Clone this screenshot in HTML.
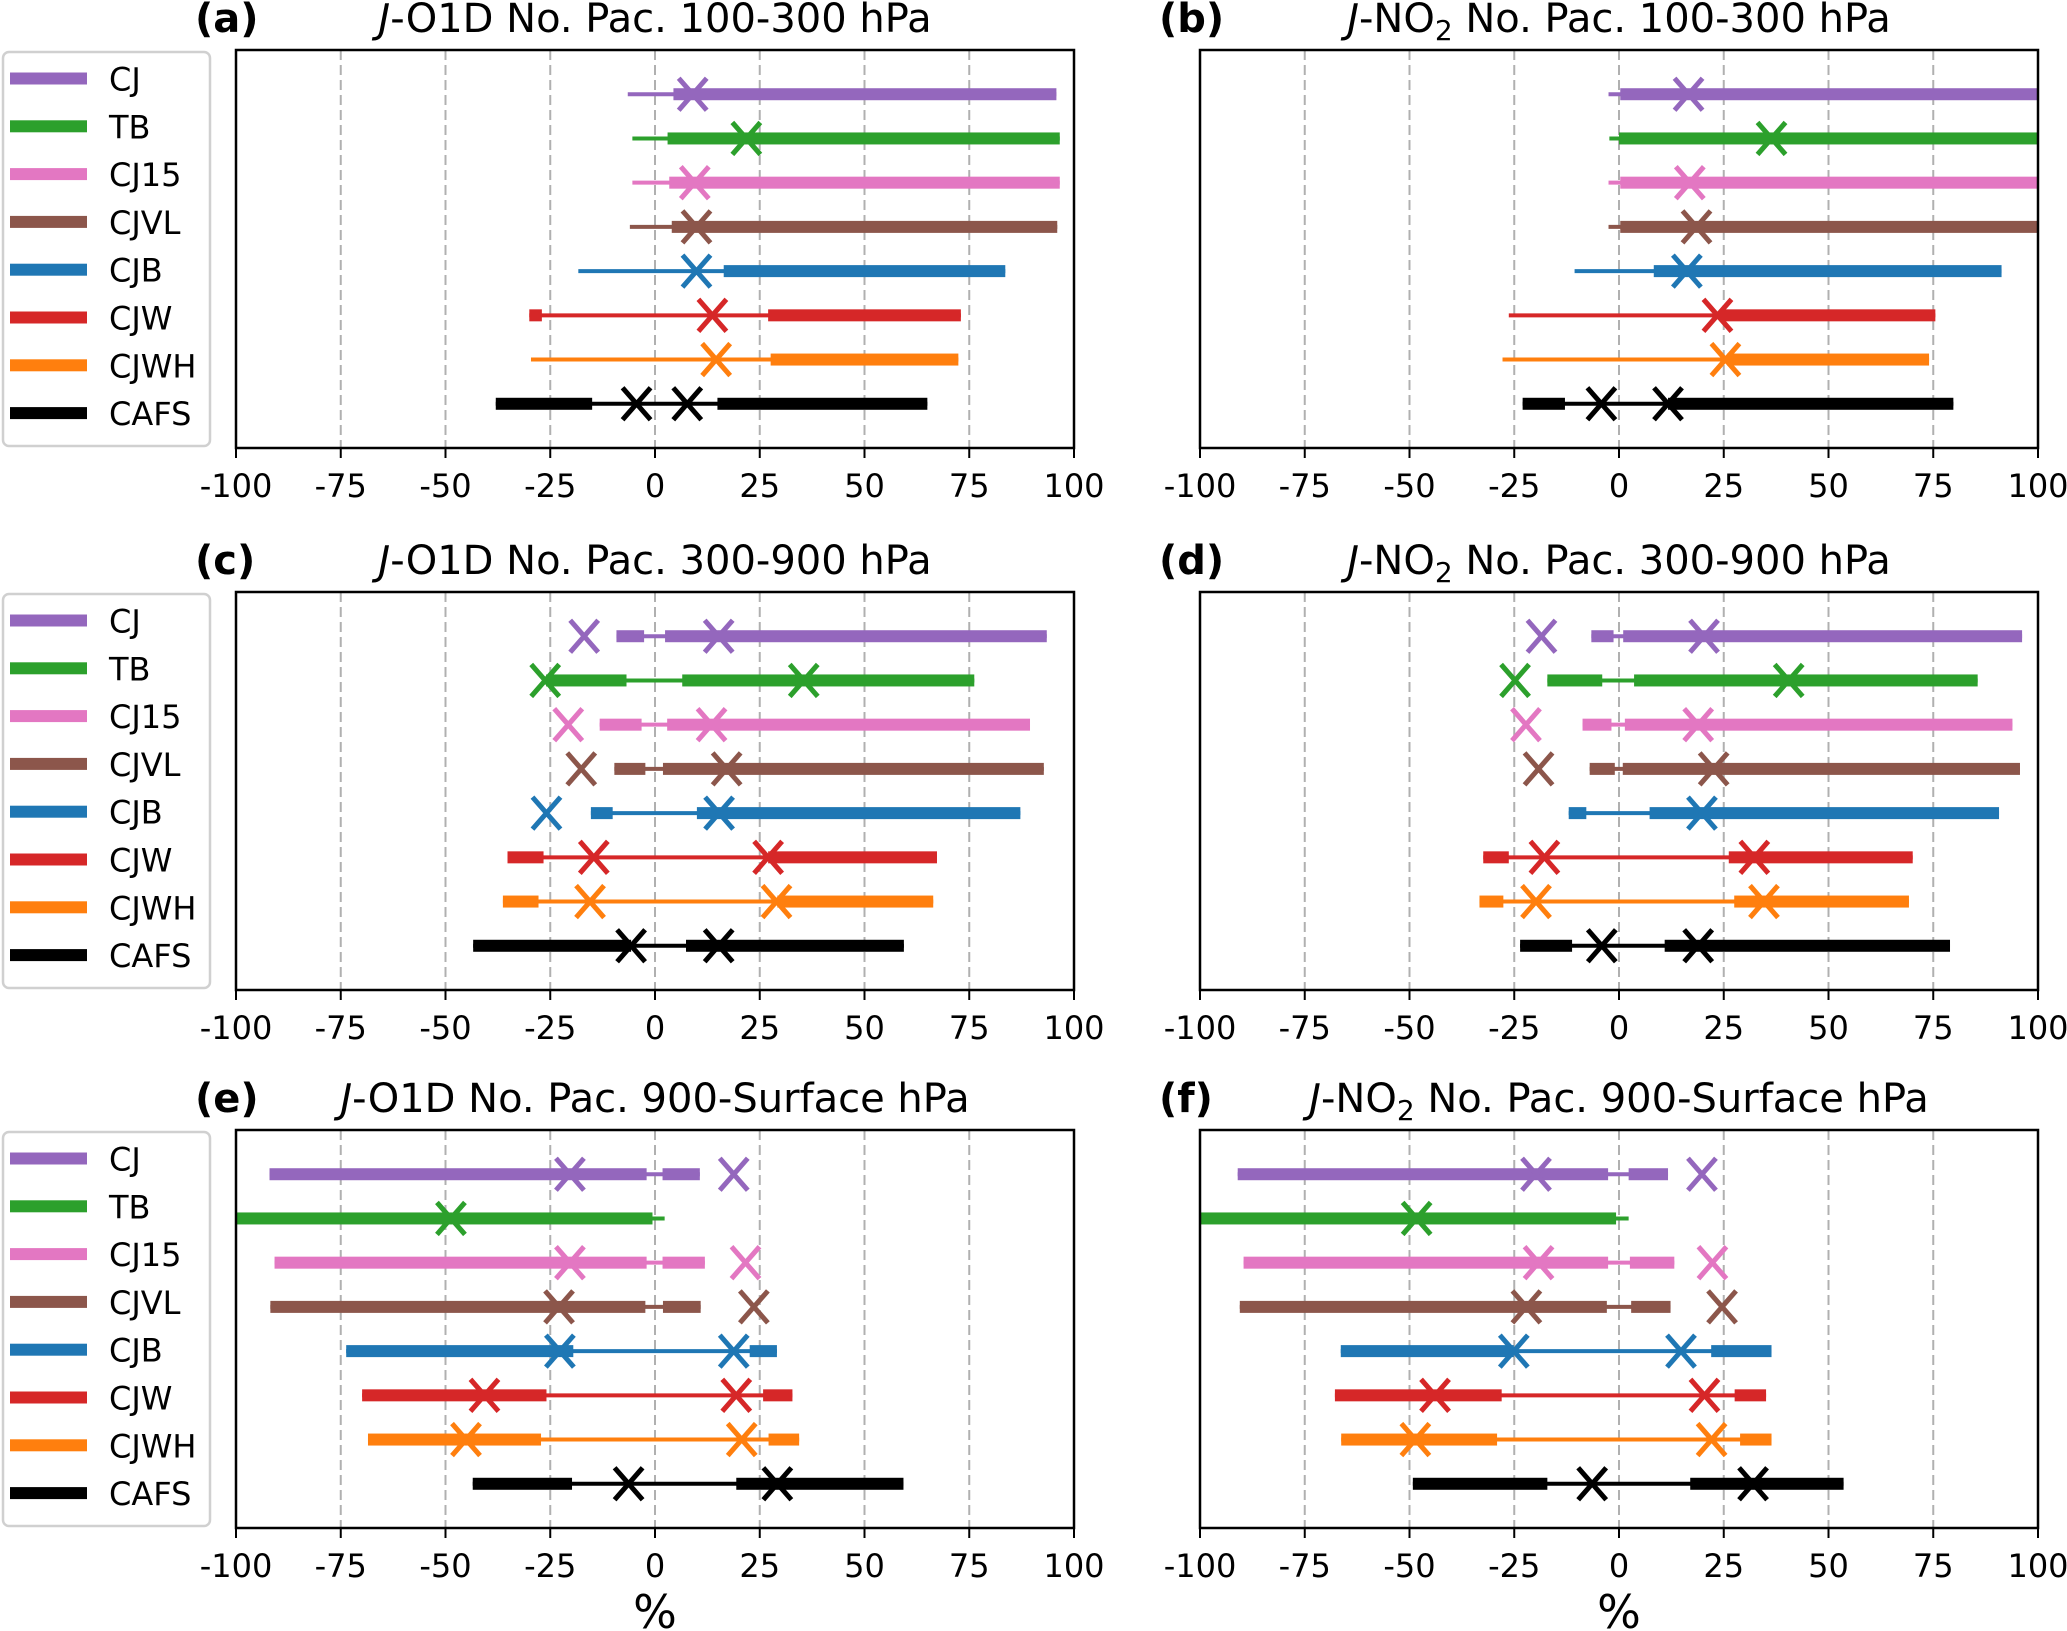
<!DOCTYPE html>
<html><head><meta charset="utf-8">
<style>
html,body{margin:0;padding:0;background:#fff;}
svg{display:block;font-family:"DejaVu Sans","Liberation Sans",sans-serif;}
</style></head>
<body>
<svg id="fig" width="2067" height="1631" viewBox="0 0 2067 1631" xmlns="http://www.w3.org/2000/svg"></svg>
<script>
const seriesNames=["CJ","TB","CJ15","CJVL","CJB","CJW","CJWH","CAFS"];
const seriesColors=["#9467bd","#2ca02c","#e377c2","#8c564b","#1f77b4","#d62728","#ff7f0e","#000000"];
const tickValues=[-100,-75,-50,-25,0,25,50,75,100];
const tickLabels=["-100","-75","-50","-25","0","25","50","75","100"];

// panel a
const aMin=[-6.5,-5.4,-5.4,-6,-18.3,-30,-29.6,-38];
const aLo=[-6.5,-5.4,-5.4,-6,-18.3,-27,-29.6,-15];
const aHi=[4.4,3,3.4,4,16.4,27,27.6,14.9];
const aMax=[95.8,96.6,96.6,96,83.6,73,72.4,65];
const aMk=[[9],[21.8],[9.5],[9.9],[9.9],[13.7],[14.6],[-4.4,7.7]];
// panel b
const bMin=[-2.5,-2.3,-2.5,-2.5,-10.6,-26.3,-27.8,-23];
const bLo=[-2.5,-2.3,-2.5,-2.5,-10.6,-26.3,-27.8,-12.9];
const bHi=[0.3,0,0.3,0.3,8.3,24.5,25.8,11.7];
const bMax=[100,100,100,100,91.3,75.5,74,79.8];
const bMk=[[16.6],[36.4],[16.9],[18.5],[16.2],[23.5],[25.4],[-4.2,11.7]];
// panel c
const cMin=[-9.2,-26,-13.2,-9.7,-15.3,-35.2,-36.3,-43.4];
const cLo=[-2.6,-6.8,-3.2,-2.3,-10.1,-26.6,-27.8,-5.7];
const cHi=[2.4,6.5,2.9,1.9,10,27,29.2,7.4];
const cMax=[93.5,76.2,89.5,92.8,87.2,67.3,66.4,59.4];
const cMk=[[-16.9,15.2],[-26.2,35.5],[-20.7,13.5],[-17.6,17.1],[-25.9,15.3],[-14.6,27],[-15.5,29],[-5.7,15.2]];
// panel d
const dMin=[-6.6,-17.1,-8.7,-7,-12,-32.4,-33.3,-23.6];
const dLo=[-1.3,-4,-1.8,-1,-7.8,-26.3,-27.6,-11.2];
const dHi=[1,3.6,1.4,0.9,7.3,26.2,27.5,10.9];
const dMax=[96.2,85.6,93.9,95.7,90.7,70.1,69.2,79];
const dMk=[[-18.5,20.3],[-24.8,40.5],[-22.2,18.9],[-19.2,22.6],[19.8],[-17.8,32.3],[-19.8,34.6],[-4.1,18.9]];
// panel e
const eMin=[-92,-100,-90.8,-91.8,-73.7,-69.9,-68.5,-43.5];
const eLo=[-2,-0.6,-2,-2.3,-19.5,-25.9,-27.2,-19.8];
const eHi=[1.8,2.3,1.8,1.9,22.6,25.8,27.1,19.4];
const eMax=[10.7,2.3,11.9,10.9,29.1,32.8,34.4,59.3];
const eMk=[[-20.3,18.8],[-48.7],[-20.3,21.6],[-22.9,23.6],[-22.7,18.8],[-40.7,19.4],[-45.1,20.7],[-6.3,29.2]];
// panel f
const fMin=[-91,-100,-89.6,-90.5,-66.4,-67.8,-66.3,-49.2];
const fLo=[-2.6,-0.7,-2.6,-2.9,-25.1,-28,-29.1,-17.1];
const fHi=[2.3,2.3,2.6,2.9,22,27.6,28.9,17];
const fMax=[11.7,2.3,13.2,12.3,36.4,35.1,36.4,53.6];
const fMk=[[-19.8,19.8],[-48.3],[-19.2,22.3],[-22.1,24.6],[-25.1,14.8],[-43.9,20.4],[-48.6,22.1],[-6.4,32]];

const panels=[
 {id:"a",title:"O1D",rng:"100-300",left:236,top:50,mn:aMin,lo:aLo,hi:aHi,mx:aMax,mk:aMk},
 {id:"b",title:"NO2",rng:"100-300",left:1200,top:50,mn:bMin,lo:bLo,hi:bHi,mx:bMax,mk:bMk},
 {id:"c",title:"O1D",rng:"300-900",left:236,top:592,mn:cMin,lo:cLo,hi:cHi,mx:cMax,mk:cMk},
 {id:"d",title:"NO2",rng:"300-900",left:1200,top:592,mn:dMin,lo:dLo,hi:dHi,mx:dMax,mk:dMk},
 {id:"e",title:"O1D",rng:"900-Surface",left:236,top:1130,mn:eMin,lo:eLo,hi:eHi,mx:eMax,mk:eMk},
 {id:"f",title:"NO2",rng:"900-Surface",left:1200,top:1130,mn:fMin,lo:fLo,hi:fHi,mx:fMax,mk:fMk}
];
const W=838,H=398;
const NS="http://www.w3.org/2000/svg";
const svg=document.getElementById("fig");
function mk(tag,attrs,parent){const e=document.createElementNS(NS,tag);for(const k in attrs)e.setAttribute(k,attrs[k]);(parent||svg).appendChild(e);return e;}

panels.forEach(p=>{
  const g=mk("g",{});
  
  
  const xs=v=>p.left+(v+100)/200*W;
  const ys=i=>p.top+(i+1)*H/9;
  tickValues.forEach(v=>{
    if(v===-100||v===100)return;
    const l=mk("line",{x1:xs(v),x2:xs(v),y1:p.top,y2:p.top+H,stroke:"#b0b0b0","stroke-width":2,"stroke-dasharray":"10,5"},g);
    
    
  });
  for(let i=0;i<8;i++){
    const sg=mk("g",{},g);
    
    
    const c=seriesColors[i],y=ys(i);
    mk("line",{x1:xs(p.mn[i]),x2:xs(p.mx[i]),y1:y,y2:y,stroke:c,"stroke-width":4},sg);
    const r1=mk("rect",{x:xs(p.mn[i]),y:y-6,width:Math.max(0,xs(p.lo[i])-xs(p.mn[i])),height:12,fill:c},sg);
    
    
    const r2=mk("rect",{x:xs(p.hi[i]),y:y-6,width:Math.max(0,xs(p.mx[i])-xs(p.hi[i])),height:12,fill:c},sg);
    
    
    p.mk[i].forEach(v=>{
      const cx=xs(v);
      const m=mk("path",{d:`M${cx-14},${y-16}L${cx+14},${y+16}M${cx-14},${y+16}L${cx+14},${y-16}`,stroke:c,"stroke-width":5,fill:"none"},sg);
      
      
    });
  }
  const fr=mk("rect",{x:p.left,y:p.top,width:W,height:H,fill:"none",stroke:"#000","stroke-width":2.5},g);
  
  
  tickValues.forEach((v,k)=>{
    mk("line",{x1:xs(v),x2:xs(v),y1:p.top+H,y2:p.top+H+10,stroke:"#000","stroke-width":2},g);
    const t=mk("text",{x:xs(v),y:p.top+H+49,"font-size":32,"text-anchor":"middle",fill:"#000"},g);
    t.textContent=tickLabels[k];
    
    
  });
  const lab=mk("text",{x:p.left-41,y:p.top-18,"font-size":40,"font-weight":"bold",fill:"#000"},g);
  lab.textContent="("+p.id+")";
  
  
  const tt=mk("text",{x:p.left+W/2,y:p.top-18,"font-size":40,"text-anchor":"middle",fill:"#000"},g);
  
  
  const s1=mk("tspan",{"font-style":"italic"},tt); s1.textContent="J";
  if(p.title==="O1D"){ const s=mk("tspan",{},tt); s.textContent="-O1D No. Pac. "+p.rng+" hPa"; }
  else{
    const s=mk("tspan",{},tt); s.textContent="-NO";
    const sub=mk("tspan",{"font-size":28,dy:8},tt); sub.textContent="2";
    const s3=mk("tspan",{dy:-8},tt); s3.textContent=" No. Pac. "+p.rng+" hPa";
  }
  if(p.left<500){
    const lg=mk("g",{},g);
    
    
    mk("rect",{x:3,y:p.top+2,width:207,height:394,rx:6,fill:"#fff",stroke:"#d0d0d0","stroke-width":2.5},lg);
    for(let i=0;i<8;i++){
      const yy=p.top+28.5+i*47.8;
      const e=mk("g",{},lg);
      
      
      mk("rect",{x:10,y:yy-6,width:77,height:12,fill:seriesColors[i]},e);
      const t=mk("text",{x:109,y:yy+12,"font-size":32,fill:"#000"},e);
      t.textContent=seriesNames[i];
    }
  }
  if(p.id==="e"||p.id==="f"){
    const xl=mk("text",{x:p.left+W/2,y:1628,"font-size":46,"text-anchor":"middle",fill:"#000"},g);
    xl.textContent="%";
    
    
  }
});
</script>
</body></html>
